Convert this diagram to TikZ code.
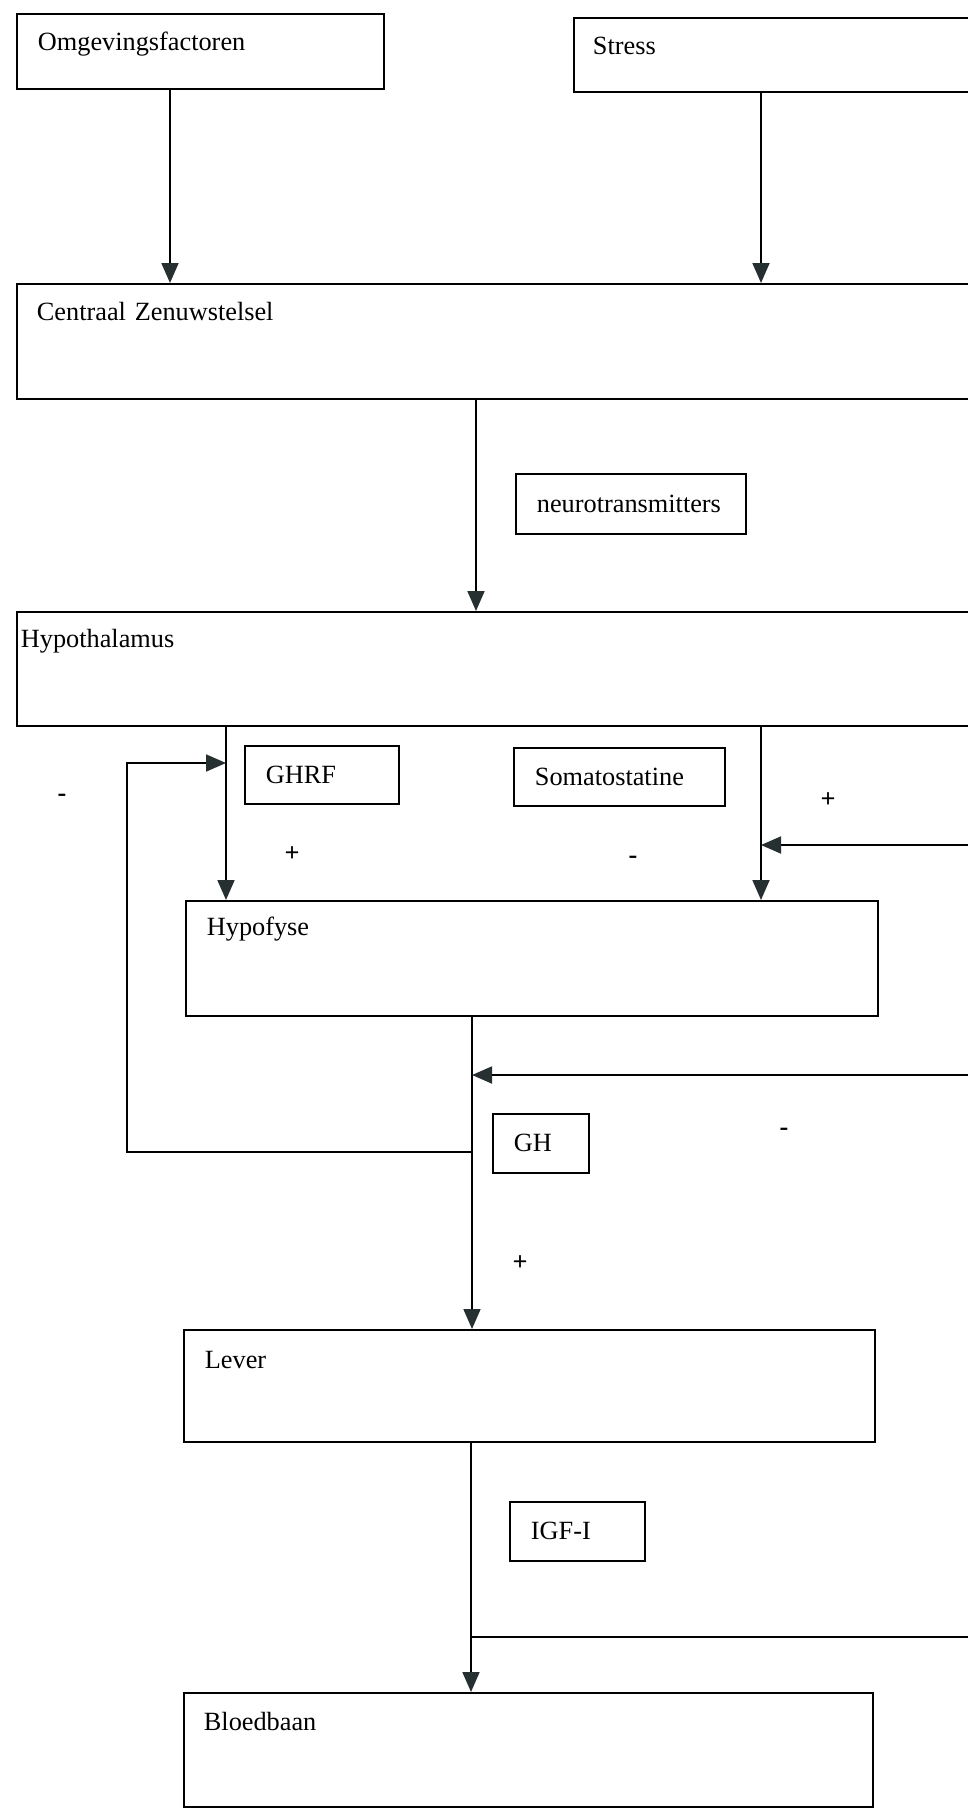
\documentclass[tikz,border=0pt]{standalone}
\usepackage{fontspec}
\setmainfont{Liberation Serif}
\usetikzlibrary{arrows.meta}
\definecolor{tipgrey}{RGB}{38,48,48}
\begin{document}
\begin{tikzpicture}[x=1pt,y=-1pt,line width=1.8pt,
  font=\fontsize{26.3}{30}\selectfont,
  bigbox/.style={draw,anchor=north west,align=left,inner xsep=21pt,inner ysep=0pt,text height=37pt},
  tag/.style={draw,anchor=north west,align=left,inner xsep=21pt,inner ysep=0pt},
  sign/.style={anchor=base,inner sep=0pt,font=\fontsize{26.3}{30}\selectfont\bfseries},
  arr/.style={-{Triangle[length=20pt,width=17pt,color=tipgrey]}}]
\useasboundingbox (0,0) rectangle (968,1808);
\node[bigbox,text width=325pt,text depth=38pt] (omg) at (16,13) {Omgevingsfactoren};
\node[bigbox,text width=375pt,text depth=37pt,inner xsep=19pt] (stress) at (573,17) {Stress};
\node[bigbox,text width=932pt,text depth=78pt,inner xsep=20pt] (czs) at (16,283) {Centraal Zenuwstelsel};
\node[tag,text width=188pt,minimum height=60pt] (neuro) at (515,473) {neurotransmitters};
\node[bigbox,text width=966pt,text depth=78pt,inner xsep=4pt,text height=36pt] (hyp) at (16,611) {Hypothalamus};
\node[tag,text width=112pt,minimum height=58pt] (ghrf) at (244,745) {GHRF};
\node[tag,text width=169pt,minimum height=58pt] (soma) at (513,747) {Somatostatine};
\node[bigbox,text width=650pt,text depth=80pt,text height=35pt] (hypo) at (185,900) {Hypofyse};
\node[tag,text width=54pt,minimum height=59pt] (gh) at (492,1113) {GH};
\node[bigbox,text width=649pt,text depth=73pt,text height=39pt] (lever) at (183,1329) {Lever};
\node[tag,text width=93pt,minimum height=59pt] (igf) at (509,1501) {IGF-I};
\node[bigbox,text width=649pt,text depth=76pt,inner xsep=20pt,text height=38pt] (blood) at (183,1692) {Bloedbaan};

\node[sign] (m-loop) at (62,801) {-};
\node[sign] (p-ghrf) at (292,861) {+};
\node[sign] (m-soma) at (633,863) {-};
\node[sign] (p-right) at (828,807) {+};
\node[sign] (m-gh) at (784,1135) {-};
\node[sign] (p-gh) at (520,1270) {+};

\coordinate (omg-o) at ([xshift=154pt]omg.south west);
\coordinate (str-o) at ([xshift=188pt]stress.south west);
\coordinate (czs-o) at ([xshift=460pt]czs.south west);
\coordinate (hyp-l) at ([xshift=210pt]hyp.south west);
\coordinate (hyp-r) at ([xshift=745pt]hyp.south west);
\coordinate (hypo-o) at ([xshift=287pt]hypo.south west);
\coordinate (lev-o) at ([xshift=288pt]lever.south west);
\coordinate (loop-bot) at (127,1152);
\coordinate (loop-top) at (127,763);
\coordinate (igf-j) at (471,1637);
\coordinate (fb-bot) at (972,1637);
\coordinate (fb-mid) at (972,1075);
\coordinate (fb-top) at (972,845);

\draw[arr] (omg-o) -- (omg-o |- czs.north);
\draw[arr] (str-o) -- (str-o |- czs.north);
\draw[arr] (czs-o) -- (czs-o |- hyp.north);
\draw[arr] (hyp-l) -- (hyp-l |- hypo.north);
\draw[arr] (hyp-r) -- (hyp-r |- hypo.north);
\draw[arr] (hypo-o) -- (hypo-o |- lever.north);
\draw[arr] (lev-o) -- (lev-o |- blood.north);
\draw[arr] (hypo-o |- loop-bot) -- (loop-bot) -- (loop-top) -- (hyp-l |- loop-top);
\draw (igf-j) -- (fb-bot) -- (fb-top);
\draw[arr] (fb-top) -- (hyp-r |- fb-top);
\draw[arr] (fb-mid) -- (hypo-o |- fb-mid);
\end{tikzpicture}
\end{document}
